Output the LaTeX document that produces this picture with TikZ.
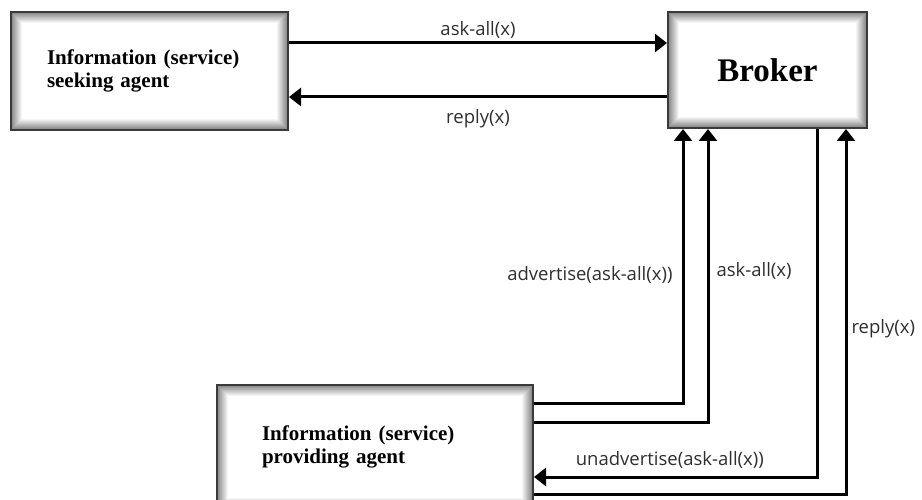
\documentclass[tikz,border=0pt]{standalone}
\usepackage{fontspec}
\setmainfont{Liberation Serif}
\setsansfont{Open Sans}
\usetikzlibrary{arrows.meta}
\definecolor{edgec}{HTML}{3A3A3A}
\definecolor{labelc}{HTML}{2E2E2E}

\tikzset{
  agent/.style={draw=edgec, line width=2pt, font=\bfseries\fontsize{21}{23}\selectfont, align=left,
    path picture={
      \foreach \i in {0,...,11}{
        \pgfmathsetmacro\g{max(0,48-\i*4.4)}
        \fill[black!\g] ([shift={(\i pt,-\i pt)}]path picture bounding box.north west)
          rectangle ([shift={(-\i pt,\i pt)}]path picture bounding box.south east);
      }}},
  flow/.style={line width=3pt, -{Triangle[length=12pt,width=18pt]}},
  msg/.style={text=labelc, font=\sffamily\fontsize{18.5}{22}\selectfont, inner sep=3pt}
}

\begin{document}
\begin{tikzpicture}[x=1pt,y=-1pt]
  \clip (0,0) rectangle (922,500);
  \node[agent, inner xsep=36pt, text width=205pt, minimum height=118pt] (seeker) at (149.5,71)
    {Information (service)\\seeking agent};
  \node[agent, align=center, minimum width=199pt, minimum height=116pt,
        font=\bfseries\fontsize{33}{36}\selectfont] (broker) at (767.5,70) {Broker};
  \node[agent, inner xsep=45pt, text width=226pt, minimum height=124pt] (provider) at (375,447)
    {Information (service)\\providing agent};

  \draw[flow] ([yshift=28pt]seeker.east) -- ([yshift=28pt]seeker.east -| broker.west)
    node[msg, midway, above] (askall) {ask-all(x)};
  \draw[flow] ([yshift=-26pt]seeker.east -| broker.west) -- ([yshift=-26pt]seeker.east)
    node[msg, midway, below=8pt] (reply) {reply(x)};

  \draw[flow] ([yshift=44pt]provider.east) -| ([xshift=-84.5pt]broker.south)
    node[msg, pos=0.733, left=6pt] (adv) {advertise(ask-all(x))};
  \draw[flow] ([yshift=25pt]provider.east) -| ([xshift=-59.5pt]broker.south)
    node[msg, pos=0.758, right=4pt] (askall2) {ask-all(x)};
  \draw[flow] ([xshift=49.5pt]broker.south) |- ([yshift=-30pt]provider.east)
    node[msg, pos=0.76, above=4pt] (unadv) {unadvertise(ask-all(x))};
  \draw[flow] ([yshift=-47pt]provider.east) -| ([xshift=78.5pt]broker.south)
    node[msg, pos=0.727, right=1pt] (reply2) {reply(x)};
\end{tikzpicture}
\end{document}
